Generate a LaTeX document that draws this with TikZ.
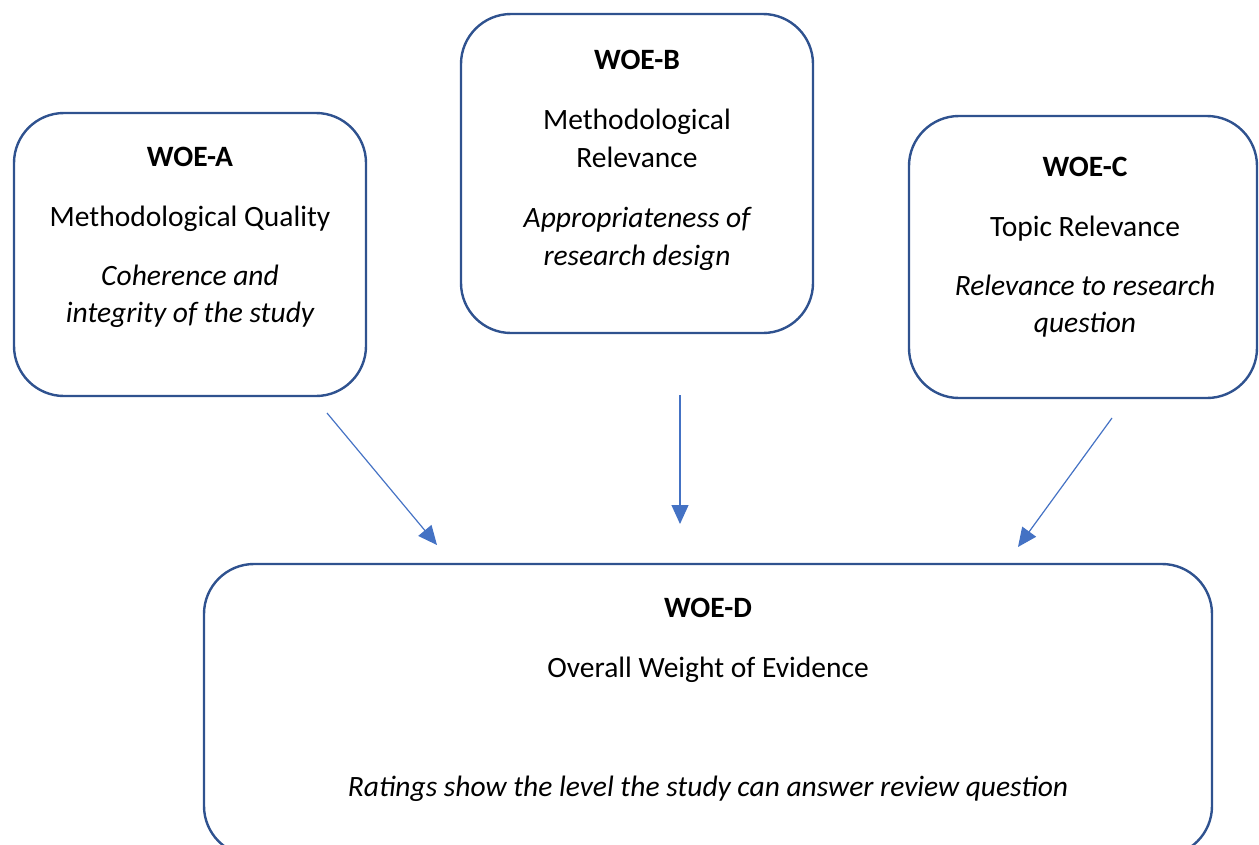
\documentclass[tikz,border=0pt]{standalone}
\usepackage{fontspec}
\setmainfont{Carlito}
\usetikzlibrary{arrows.meta}
\definecolor{boxblue}{HTML}{2F528F}
\definecolor{arrblue}{HTML}{4472C4}
\begin{document}
\begin{tikzpicture}[x=1pt,y=-1pt,
  woebox/.style={draw=boxblue,line width=2.4pt,rounded corners=50pt},
  txt/.style={anchor=base,inner sep=0pt,font=\fontsize{29.5}{35}\selectfont},
  ttl/.style={txt,font=\fontsize{29.5}{35}\selectfont\bfseries},
  itx/.style={txt,font=\fontsize{29.5}{35}\selectfont\itshape},
  conn/.style={draw=arrblue,line width=1.2pt,-{Triangle[length=19pt,width=17pt]}}]
\useasboundingbox (0,0) rectangle (1259,844);
% boxes
\draw[woebox] (14,113) rectangle (366,396);
\draw[woebox] (461,14) rectangle (813,333);
\draw[woebox] (909,116) rectangle (1257,398);
\draw[woebox] (204,564) rectangle (1212,856);
% box A
\node[ttl] (a1) at (190,166) {WOE-A};
\node[txt] (a2) at (190,226) {Methodological Quality};
\node[itx] (a3) at (190,285) {Coherence and};
\node[itx] (a4) at (190,322) {integrity of the study};
% box B
\node[ttl] (b1) at (637,69) {WOE-B};
\node[txt] (b2) at (637,129) {Methodological};
\node[txt] (b3) at (637,167) {Relevance};
\node[itx] (b4) at (637,227) {Appropriateness of};
\node[itx] (b5) at (637,265) {research design};
% box C
\node[ttl] (c1) at (1085,176) {WOE-C};
\node[txt] (c2) at (1085,236) {Topic Relevance};
\node[itx] (c3) at (1085,295) {Relevance to research};
\node[itx] (c4) at (1085,332) {question};
% box D
\node[ttl] (d1) at (708,617) {WOE-D};
\node[txt] (d2) at (708,677) {Overall Weight of Evidence};
\node[itx] (d3) at (708,796) {Ratings show the level the study can answer review question};
% arrows
\coordinate (pa) at (327,413);
\coordinate (qa) at (437,545);
\coordinate (pb) at (680,395);
\coordinate (qb) at (680,524);
\coordinate (pc) at (1112,418);
\coordinate (qc) at (1018,547);
\draw[conn] (pa) -- (qa);
\draw[conn] (pb) -- (qb);
\draw[conn] (pc) -- (qc);
\end{tikzpicture}
\end{document}
